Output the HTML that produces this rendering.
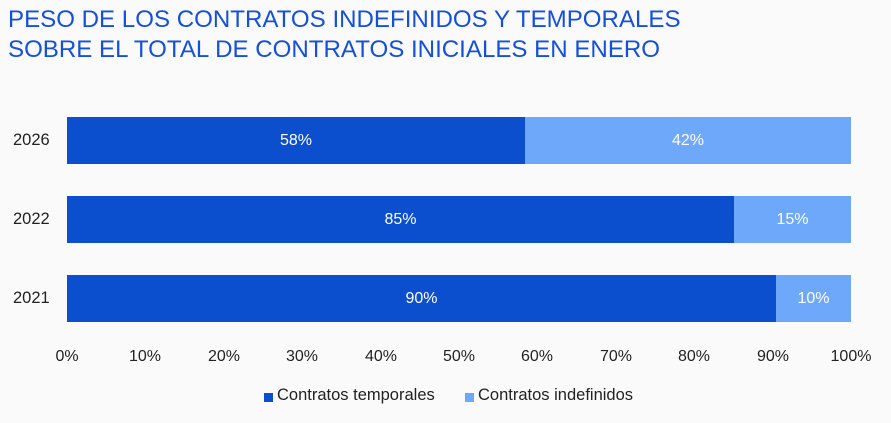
<!DOCTYPE html>
<html><head><meta charset="utf-8"><style>
body{margin:0;width:891px;height:423px;background:#fafafa;font-family:"Liberation Sans",sans-serif;position:relative;overflow:hidden}
.t{position:absolute;left:8px;color:#1450d8;font-size:24.1px;white-space:nowrap}
.y{position:absolute;left:13px;font-size:16.5px;color:#222;width:42px;text-align:left}
.bar{position:absolute;height:47px;color:#fff;font-size:16px;display:flex;align-items:center;justify-content:center}
.d{background:#0b4fce}.l{background:#6ea8fa}
.x{position:absolute;top:348px;font-size:16px;color:#222;width:60px;text-align:center}
.lg{position:absolute;top:386px;font-size:16.5px;color:#222}
.sq{position:absolute;width:9px;height:9px}
</style></head><body>
<div class="t" style="top:6px">PESO DE LOS CONTRATOS INDEFINIDOS Y TEMPORALES</div>
<div class="t" style="top:36px">SOBRE EL TOTAL DE CONTRATOS INICIALES EN ENERO</div>

<div class="y" style="top:131px">2026</div>
<div class="y" style="top:210px">2022</div>
<div class="y" style="top:289px">2021</div>

<div class="bar d" style="top:117px;left:67px;width:458px">58%</div>
<div class="bar l" style="top:117px;left:525px;width:326px">42%</div>
<div class="bar d" style="top:196px;left:67px;width:667px">85%</div>
<div class="bar l" style="top:196px;left:734px;width:117px">15%</div>
<div class="bar d" style="top:275px;left:67px;width:709px">90%</div>
<div class="bar l" style="top:275px;left:776px;width:75px">10%</div>

<div class="x" style="left:37px">0%</div>
<div class="x" style="left:115px">10%</div>
<div class="x" style="left:194px">20%</div>
<div class="x" style="left:272px">30%</div>
<div class="x" style="left:351px">40%</div>
<div class="x" style="left:429px">50%</div>
<div class="x" style="left:507px">60%</div>
<div class="x" style="left:586px">70%</div>
<div class="x" style="left:664px">80%</div>
<div class="x" style="left:743px">90%</div>
<div class="x" style="left:821px">100%</div>

<div class="sq d" style="left:264px;top:393px"></div>
<div class="lg" style="left:277px">Contratos temporales</div>
<div class="sq l" style="left:465px;top:393px"></div>
<div class="lg" style="left:478px">Contratos indefinidos</div>
</body></html>
